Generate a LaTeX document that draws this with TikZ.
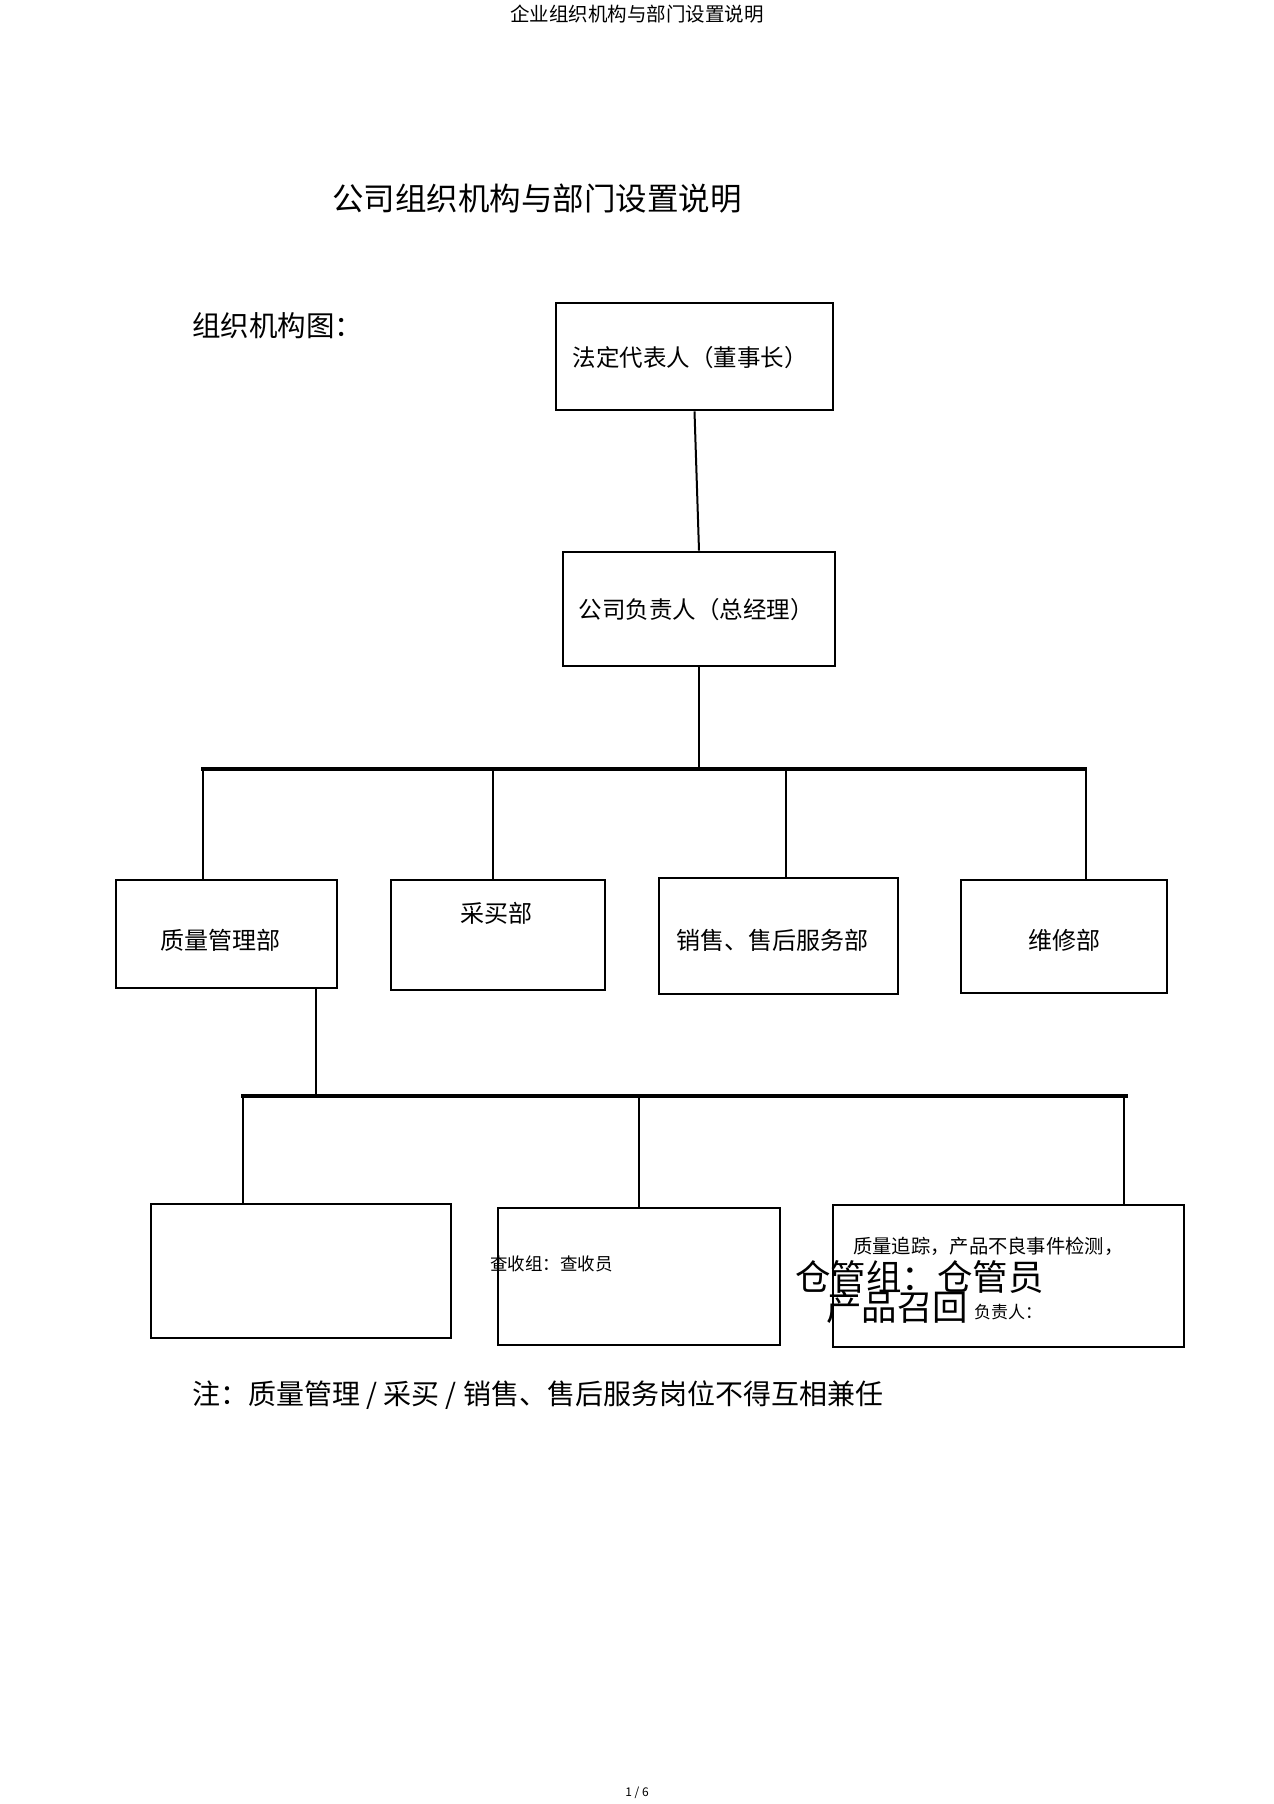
\documentclass[tikz,border=0pt]{standalone}
\usepackage{fontspec}
\setmainfont{Noto Sans CJK SC}
\newcommand\setfs[1]{\fontsize{#1}{#1}\selectfont}
\begin{document}
\begin{tikzpicture}[x=1pt,y=-1pt,
  box/.style={draw, line width=2.8pt, inner sep=0pt, font=\setfs{23.5}},
  dept/.style={box, font=\setfs{24}},
  conn/.style={line width=2pt},
  bar/.style={line width=4pt},
  txt/.style={inner sep=0pt}]
\useasboundingbox (0,0) rectangle (1274,1804);
\fill[white] (0,0) rectangle (1274,1804);

% header, title
\node[txt, font=\setfs{19.5}] (hdr) at (637,14) {企业组织机构与部门设置说明};
\node[txt, font=\setfs{31.5}] (title) at (537,199) {公司组织机构与部门设置说明};
\node[txt, anchor=west, font=\setfs{28.5}] (chart) at (192,326) {组织机构图：};

% top boxes
\node[box, minimum width=277pt, minimum height=107pt] (chair) at (694.5,356.5) {};
\node[txt, font=\setfs{23.5}] (chairt) at (690,358) {法定代表人（董事长）};
\node[box, minimum width=272pt, minimum height=114pt] (gm) at (699,609) {};
\node[txt, font=\setfs{23.5}] (gmt) at (696,610) {公司负责人（总经理）};

% departments
\node[dept, minimum width=221pt, minimum height=108pt] (d1) at (226.5,934) {};
\node[txt, font=\setfs{24}] (d1t) at (220,940) {质量管理部};
\node[dept, minimum width=214pt, minimum height=110pt] (d2) at (498,935) {};
\node[txt, font=\setfs{24}] (d2t) at (496,913) {采买部};
\node[dept, minimum width=239pt, minimum height=116pt] (d3) at (778.5,936) {};
\node[txt, font=\setfs{24}] (d3t) at (772,940) {销售、售后服务部};
\node[dept, minimum width=206pt, minimum height=113pt] (d4) at (1064,936.5) {};
\node[txt, font=\setfs{24}] (d4t) at (1064,940) {维修部};

% groups
\node[box, minimum width=300pt, minimum height=134pt] (q1) at (301,1271) {};
\node[box, minimum width=282pt, minimum height=137pt] (q2) at (639,1276.5) {};
\node[box, minimum width=351pt, minimum height=142pt] (q3) at (1008.5,1276) {};

\node[txt, anchor=west, font=\setfs{17.5}] (q2t) at (490,1264) {查收组：查收员};
\node[txt, anchor=west, font=\setfs{19.3}] (q3a) at (853,1246) {质量追踪，产品不良事件检测，};
\node[txt, anchor=west, font=\setfs{35.5}] (q3b) at (795,1277) {仓管组：仓管员};
\node[txt, anchor=west, font=\setfs{35.5}] (q3c) at (826,1307) {产品召回};
\node[txt, anchor=west, font=\setfs{17}] (q3d) at (974,1312) {负责人：};

% connectors
\draw[conn] (chair.south) -- (gm.north);
\coordinate (bar1L) at (201,769);
\coordinate (bar1R) at (1087,769);
\draw[conn] (gm.south) -- (gm.south |- bar1L);
\draw[bar] (bar1L) -- (bar1R);
\coordinate (j1) at (203,769);
\coordinate (j2) at (493,769);
\coordinate (j3) at (786,771);
\coordinate (j4) at (1086,769);
\draw[conn] (j1) -- (j1 |- d1.north);
\draw[conn] (j2) -- (j2 |- d2.north);
\draw[conn] (j3) -- (j3 |- d3.north);
\draw[conn] (j4) -- (j4 |- d4.north);

\coordinate (k0) at (316,1096);
\coordinate (bar2L) at (241,1096);
\coordinate (bar2R) at (1128,1096);
\draw[conn] (k0 |- d1.south) -- (k0);
\draw[line width=3.5pt] (bar2L) -- (bar2R);
\coordinate (k1) at (243,1096);
\coordinate (k2) at (639,1096);
\coordinate (k3) at (1124,1096);
\draw[conn] (k1) -- (k1 |- q1.north);
\draw[conn] (k2) -- (k2 |- q2.north);
\draw[conn] (k3) -- (k3 |- q3.north);

% note and page number
\node[txt, anchor=west, font=\setfs{28}] (note) at (192,1395) {注：质量管理 / 采买 / 销售、售后服务岗位不得互相兼任};
\node[txt, font=\setfs{12}] (pg) at (637,1793) {1 / 6};
\end{tikzpicture}
\end{document}
